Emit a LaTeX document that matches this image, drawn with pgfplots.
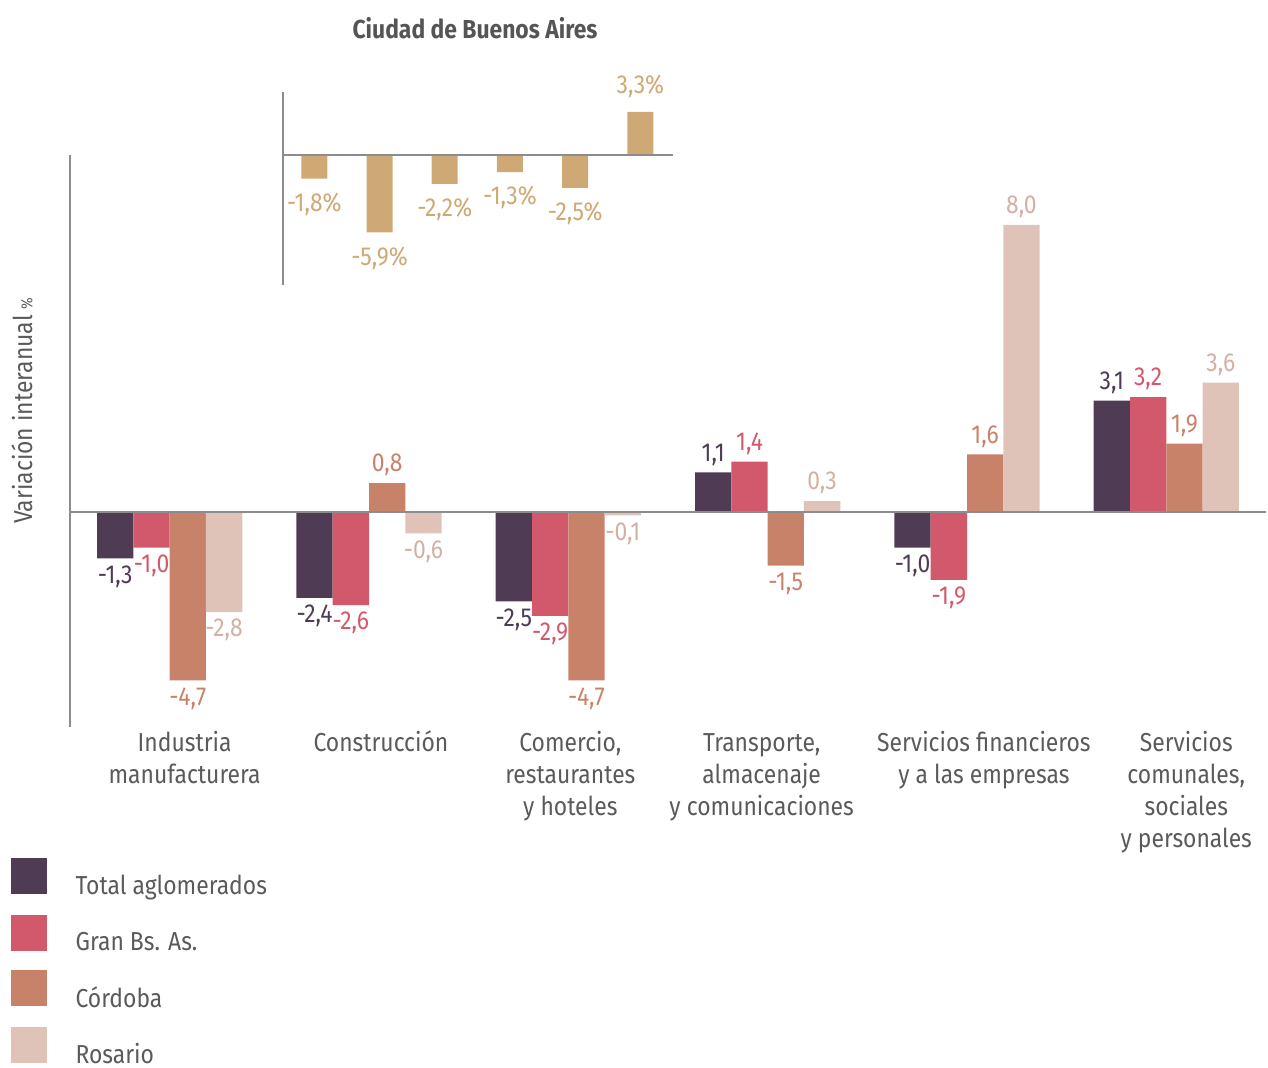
\documentclass[border=0pt]{standalone}
\usepackage{fontspec}
\setmainfont{Fira Sans}[FakeStretch=0.88]
\usepackage{pgfplots}
\pgfplotsset{compat=1.18}
\definecolor{axisgray}{HTML}{8C8C8C}
\definecolor{textgray}{HTML}{5A5A5A}
\definecolor{titlegray}{HTML}{555555}
\definecolor{cA}{HTML}{4F3B54}
\definecolor{cB}{HTML}{D1596B}
\definecolor{cC}{HTML}{C9826A}
\definecolor{cD}{HTML}{E0C3B8}
\definecolor{cDtext}{HTML}{D2B0A3}
\definecolor{gold}{HTML}{CFA975}
\pgfplotsset{sqlegend/.style={legend image code/.code={\fill[#1] (0pt,-4pt) rectangle (18pt,14pt);}}}
\newcommand{\lbl}{\fontsize{13}{16}\selectfont}
\begin{document}
\begin{tikzpicture}
\useasboundingbox (0pt,0pt) rectangle (634pt,-534pt);
\begin{axis}[
  at={(35pt,-363.5pt)}, anchor=south west,
  scale only axis, width=598pt, height=286pt,
  ybar=0pt, bar width=18.15pt,
  xmin=-0.5, xmax=5.5, ymin=-6, ymax=9.95,
  axis x line*=bottom, axis y line*=left,
  x axis line style={draw=none},
  y axis line style={draw=axisgray, line width=1.3pt},
  xtick={0.075,1.06,2.01,2.97,4.085,5.10},
  xticklabels={{\strut Industria\\manufacturera}, {\strut Construcción}, {\strut Comercio,\\restaurantes\\y hoteles}, {\strut Transporte,\\almacenaje\\y comunicaciones}, {\strut Servicios financieros\\y a las empresas}, {\strut Servicios\\comunales,\\sociales\\y personales}},
  ytick=\empty,
  major tick length=0pt,
  xticklabel style={align=center, anchor=north, font=\lbl, text=textgray, yshift=2.5pt},
  ylabel={Variación interanual {\footnotesize\%}},
  ylabel style={at={(axis description cs:-0.04,0.553)}, anchor=center, font=\lbl, text=textgray},
  clip=false,
  nodes near coords,
  nodes near coords style={font=\lbl},
  /pgf/number format/.cd, fixed, fixed zerofill, precision=1, use comma, assume math mode=true, /pgfplots/.cd,
  legend style={at={(axis description cs:-0.05,-0.229)}, anchor=north west, draw=none, fill=none, inner sep=0pt, row sep=6.5pt, font=\lbl, text=textgray, cells={anchor=west}, /tikz/every odd column/.append style={column sep=12.5pt}},
  legend cell align=left,
]
\addplot[fill=cA, draw=none, sqlegend=cA, every node near coord/.append style={text=cA}] coordinates {(0,-1.3) (1,-2.4) (2,-2.5) (3,1.1) (4,-1.0) (5,3.1)};
\addplot[fill=cB, draw=none, sqlegend=cB, every node near coord/.append style={text=cB}] coordinates {(0,-1.0) (1,-2.6) (2,-2.9) (3,1.4) (4,-1.9) (5,3.2)};
\addplot[fill=cC, draw=none, sqlegend=cC, every node near coord/.append style={text=cC}] coordinates {(0,-4.7) (1,0.8) (2,-4.7) (3,-1.5) (4,1.6) (5,1.9)};
\addplot[fill=cD, draw=none, sqlegend=cD, every node near coord/.append style={text=cDtext}] coordinates {(0,-2.8) (1,-0.6) (2,-0.1) (3,0.3) (4,8.0) (5,3.6)};
\draw[axisgray, line width=1.3pt] (axis cs:-0.5,0) -- (axis cs:5.5,0);
\legend{Total aglomerados, Gran Bs. As., Córdoba, Rosario}
\end{axis}
\begin{axis}[
  at={(141.5pt,-142.5pt)}, anchor=south west,
  scale only axis, width=195pt, height=96.5pt,
  ybar, bar width=13pt,
  xmin=-0.48, xmax=5.5, ymin=-9.92, ymax=4.81,
  axis x line*=bottom, axis y line*=left,
  x axis line style={draw=none},
  y axis line style={draw=axisgray, line width=1.3pt},
  xtick=\empty, ytick=\empty, major tick length=0pt,
  clip=false,
  nodes near coords={\pgfmathprintnumber{\pgfplotspointmeta}\%},
  nodes near coords style={font=\lbl, text=gold, inner sep=7pt},
  /pgf/number format/.cd, fixed, fixed zerofill, precision=1, use comma, assume math mode=true, /pgfplots/.cd,
]
\addplot[fill=gold, draw=none] coordinates {(0,-1.8) (1,-5.9) (2,-2.2) (3,-1.3) (4,-2.5) (5,3.3)};
\draw[axisgray, line width=1.3pt] (axis cs:-0.48,0) -- (axis cs:5.5,0);
\end{axis}
\node[font=\bfseries\fontsize{13}{15}\selectfont, text=titlegray] at (237.5pt,-14pt) {Ciudad de Buenos Aires};
\end{tikzpicture}
\end{document}
